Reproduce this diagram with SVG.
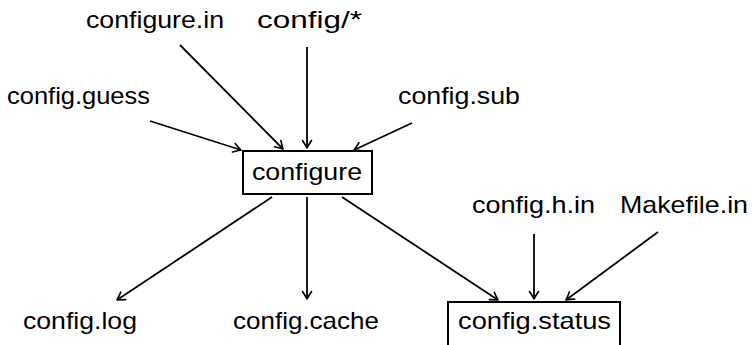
<svg xmlns="http://www.w3.org/2000/svg" width="753" height="345" viewBox="0 0 753 345">
<defs>
<marker id="arr" viewBox="-9 -6 11 12" refX="0" refY="0" markerWidth="11" markerHeight="12" markerUnits="userSpaceOnUse" orient="auto">
<path d="M -7.5 -4.5 Q -2.5 -1.2 0 0 Q -2.5 1.2 -7.5 4.5" fill="none" stroke="#000" stroke-width="1.6" stroke-linecap="round" stroke-linejoin="round"/>
</marker>
<style>
text{font-family:"Liberation Sans",Arial,sans-serif;font-size:24px;fill:#000}
.box{fill:#fff;stroke:#000;stroke-width:2}
.edge{stroke:#000;stroke-width:1.8;fill:none;marker-end:url(#arr)}
</style>
</defs>
<rect width="753" height="345" fill="#fff"/>
<g id="connectors">
<line class="edge" x1="180" y1="45" x2="283" y2="149"/>
<line class="edge" x1="307" y1="47" x2="307" y2="148"/>
<line class="edge" x1="150" y1="121" x2="241" y2="150"/>
<line class="edge" x1="412" y1="123" x2="354" y2="150"/>
<line class="edge" x1="272" y1="197" x2="117" y2="300"/>
<line class="edge" x1="307" y1="197" x2="307" y2="299"/>
<line class="edge" x1="342" y1="197" x2="498" y2="300"/>
<line class="edge" x1="534" y1="234" x2="534" y2="299"/>
<line class="edge" x1="658" y1="232" x2="566" y2="300"/>
</g>
<g id="configure-in"><text x="86" y="28" textLength="138" lengthAdjust="spacingAndGlyphs">configure.in</text></g>
<g id="config-star"><text x="257" y="28" textLength="105" lengthAdjust="spacingAndGlyphs">config/*</text></g>
<g id="config-guess"><text x="7" y="104" textLength="143" lengthAdjust="spacingAndGlyphs">config.guess</text></g>
<g id="config-sub"><text x="398" y="104" textLength="122" lengthAdjust="spacingAndGlyphs">config.sub</text></g>
<g id="configure"><rect class="box" x="243" y="151" width="129" height="43"/><text x="252" y="180" textLength="110" lengthAdjust="spacingAndGlyphs">configure</text></g>
<g id="config-log"><text x="23" y="329" textLength="114" lengthAdjust="spacingAndGlyphs">config.log</text></g>
<g id="config-cache"><text x="233" y="329" textLength="146" lengthAdjust="spacingAndGlyphs">config.cache</text></g>
<g id="config-h-in"><text x="472" y="213" textLength="123" lengthAdjust="spacingAndGlyphs">config.h.in</text></g>
<g id="makefile-in"><text x="620" y="213" textLength="128" lengthAdjust="spacingAndGlyphs">Makefile.in</text></g>
<g id="config-status"><rect class="box" x="448" y="302" width="172" height="48"/><text x="458" y="329" textLength="153" lengthAdjust="spacingAndGlyphs">config.status</text></g>
</svg>
